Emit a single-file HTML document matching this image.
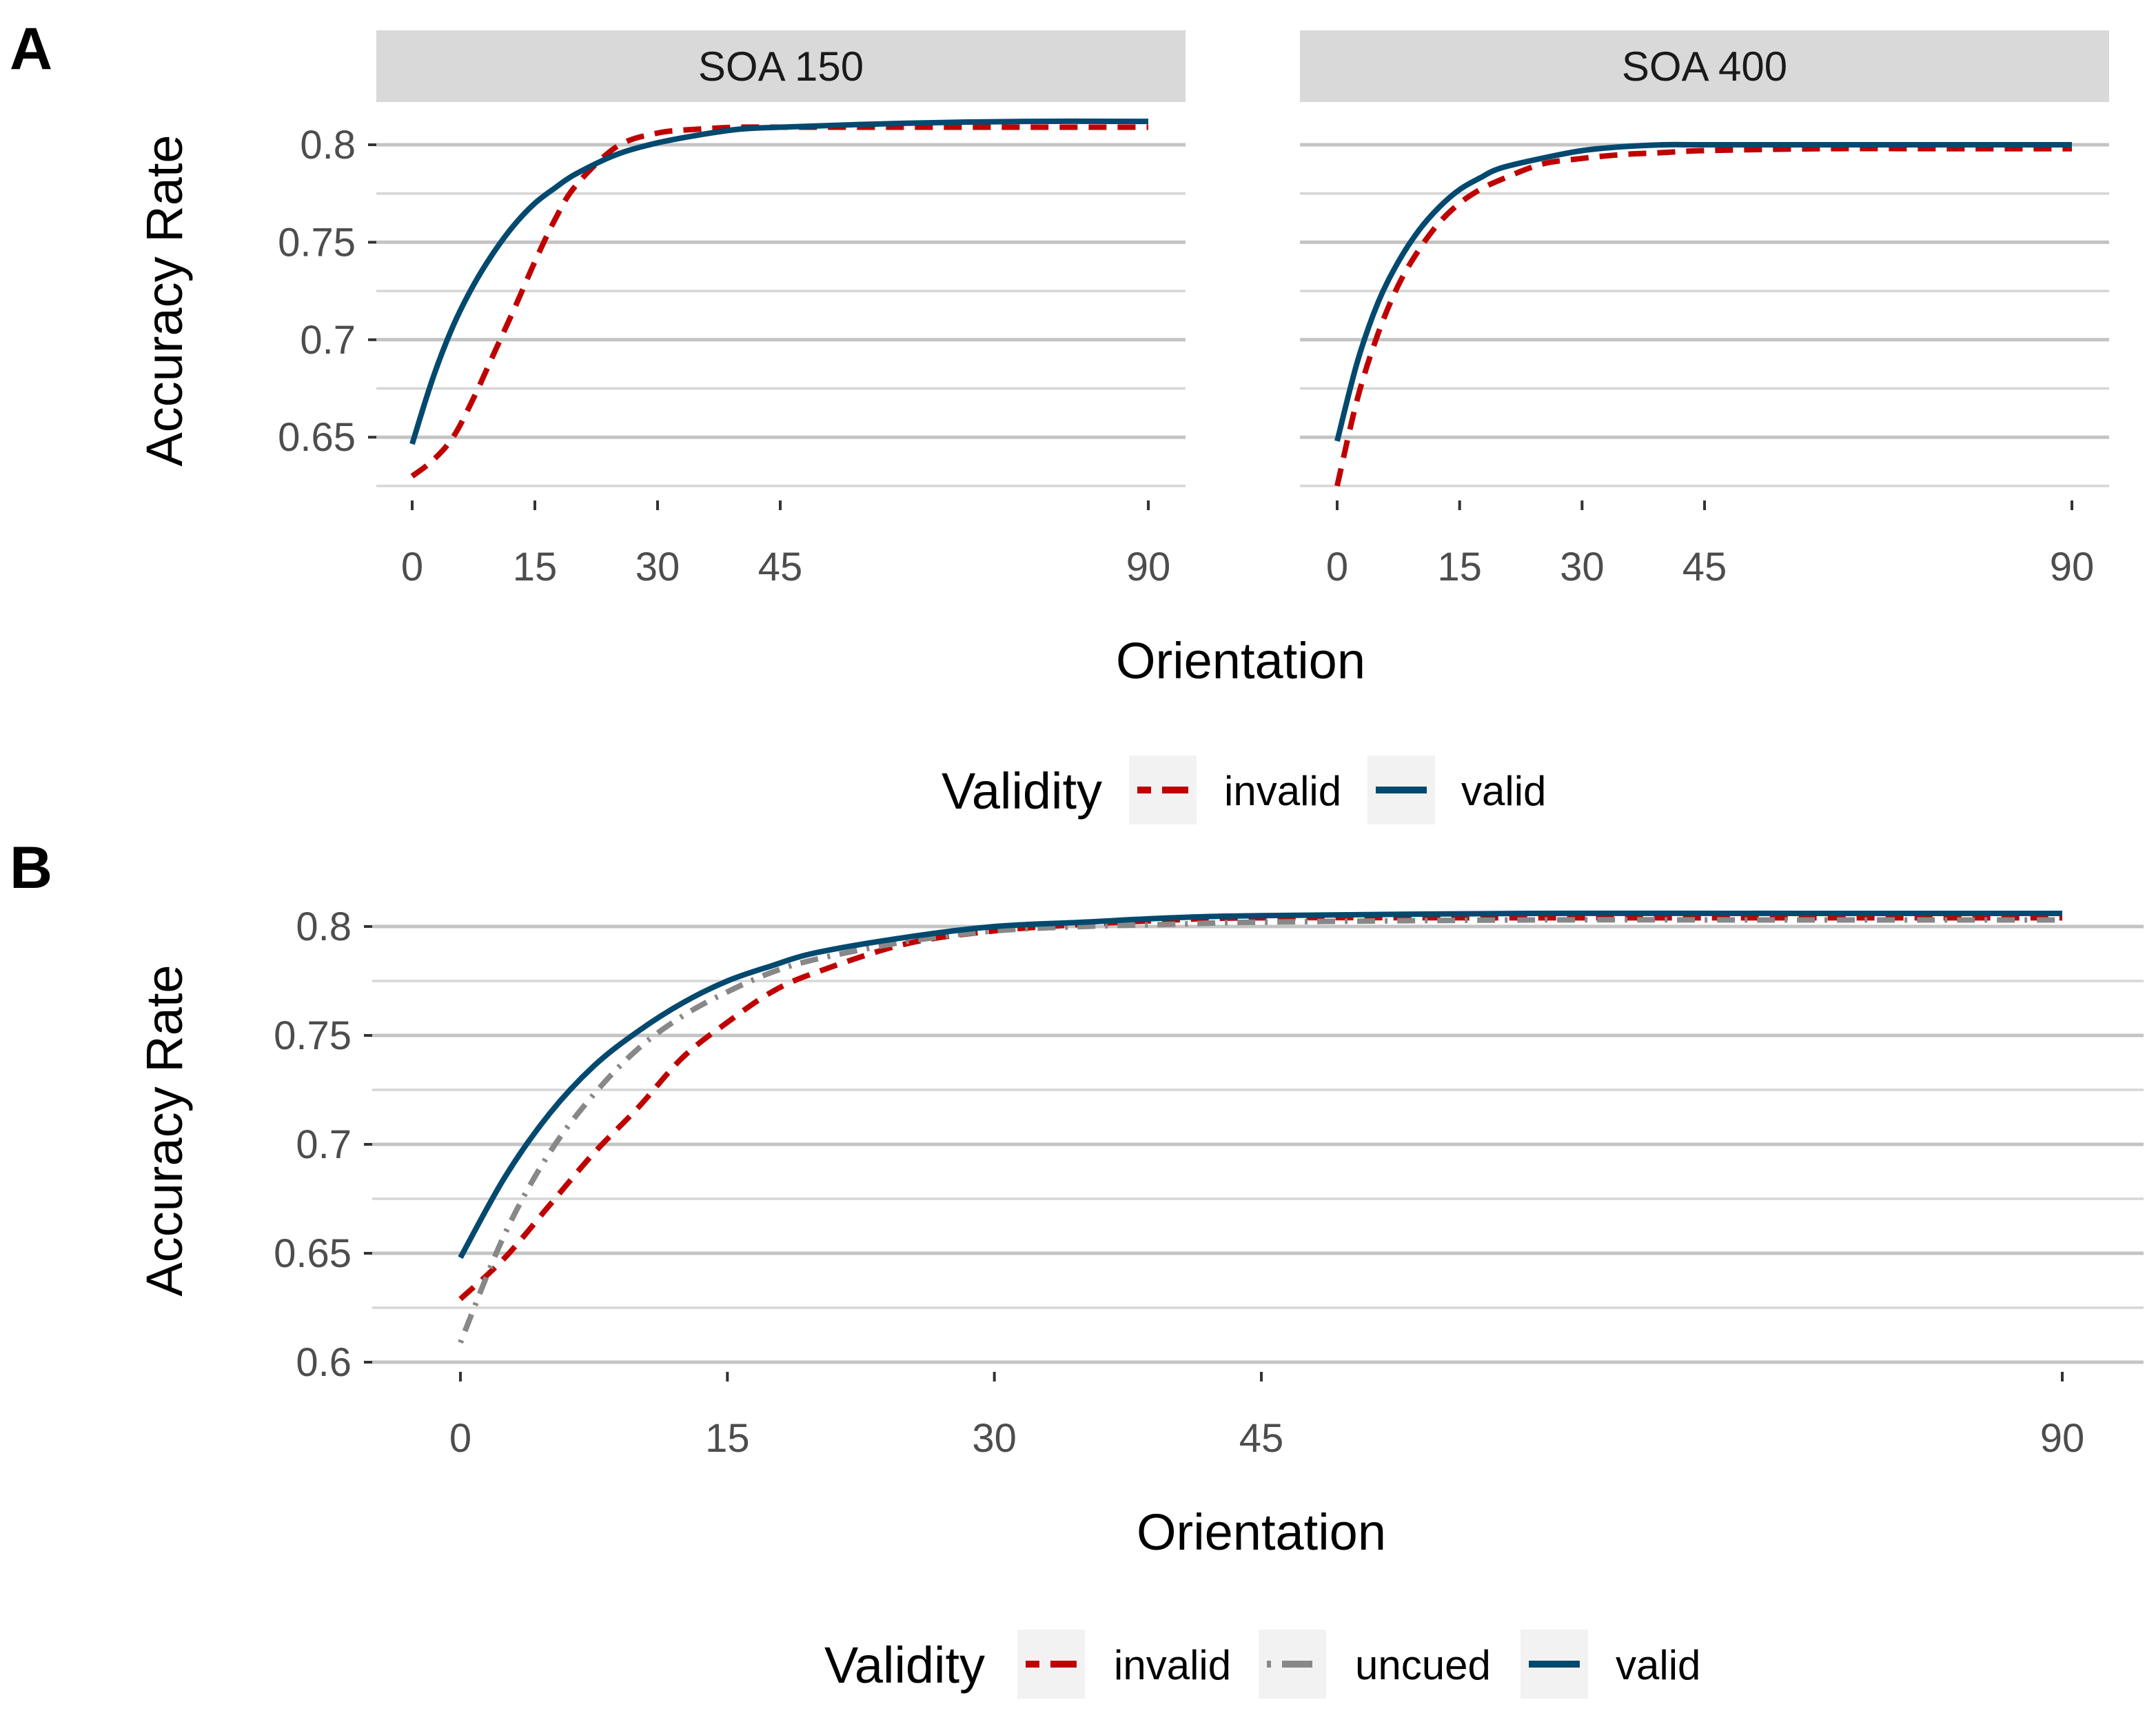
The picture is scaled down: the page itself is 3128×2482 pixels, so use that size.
<!DOCTYPE html>
<html><head><meta charset="utf-8"><style>
html,body{margin:0;padding:0;background:#fff;}
svg{display:block;font-family:"Liberation Sans",sans-serif;}
</style></head><body>
<svg id="fig" width="3128" height="2482" viewBox="0 0 3128 2482" xmlns="http://www.w3.org/2000/svg">
<g id="root"></g>
</svg>
<script>
const xTicks = [0, 15, 30, 45, 90];
const xs = [0, 2.5, 5, 7.5, 10, 12.5, 15, 17.5, 20, 25, 30, 35, 40, 45, 60, 75, 90];
const yTicksA = [0.65, 0.7, 0.75, 0.8];
const yTickLabelsA = ["0.65", "0.7", "0.75", "0.8"];
const yTicksB = [0.6, 0.65, 0.7, 0.75, 0.8];
const yTickLabelsB = ["0.6", "0.65", "0.7", "0.75", "0.8"];
const validA150 = [0.6465, 0.680, 0.707, 0.728, 0.745, 0.759, 0.770, 0.778, 0.785, 0.795, 0.801, 0.805, 0.808, 0.809, 0.811, 0.812, 0.812];
const invalidA150 = [0.630, 0.638, 0.650, 0.670, 0.693, 0.716, 0.740, 0.762, 0.779, 0.799, 0.806, 0.808, 0.809, 0.809, 0.809, 0.809, 0.809];
const validA400 = [0.648, 0.689, 0.719, 0.740, 0.756, 0.768, 0.777, 0.783, 0.788, 0.793, 0.797, 0.799, 0.800, 0.800, 0.800, 0.800, 0.800];
const invalidA400 = [0.625, 0.670, 0.703, 0.728, 0.746, 0.760, 0.770, 0.777, 0.782, 0.790, 0.793, 0.795, 0.796, 0.797, 0.798, 0.798, 0.798];
const validB = [0.648, 0.685, 0.714, 0.736, 0.752, 0.765, 0.775, 0.782, 0.788, 0.795, 0.800, 0.802, 0.804, 0.805, 0.806, 0.806, 0.806];
const uncuedB = [0.609, 0.659, 0.696, 0.723, 0.744, 0.759, 0.770, 0.779, 0.785, 0.793, 0.798, 0.800, 0.801, 0.802, 0.803, 0.803, 0.803];
const invalidB = [0.629, 0.648, 0.672, 0.696, 0.717, 0.740, 0.756, 0.770, 0.779, 0.792, 0.798, 0.801, 0.803, 0.804, 0.804, 0.804, 0.804];

const NS = "http://www.w3.org/2000/svg";
const root = document.getElementById("root");
function el(tag, attrs, parent, text) {
  const e = document.createElementNS(NS, tag);
  for (const k in attrs) e.setAttribute(k, attrs[k]);
  if (text !== undefined) e.textContent = text;
  (parent || root).appendChild(e);
  return e;
}
const COL = {valid: "#02496f", invalid: "#c00000", uncued: "#888888"};
const DASH = {valid: "none", invalid: "26 16", uncued: "4 14 26 14"};

function smoothPath(pts) {
  let d = "M" + pts[0][0].toFixed(1) + "," + pts[0][1].toFixed(1);
  for (let i = 0; i < pts.length - 1; i++) {
    const p0 = pts[Math.max(0, i - 1)], p1 = pts[i], p2 = pts[i + 1], p3 = pts[Math.min(pts.length - 1, i + 2)];
    const c1x = p1[0] + (p2[0] - p0[0]) / 6, c1y = p1[1] + (p2[1] - p0[1]) / 6;
    const c2x = p2[0] - (p3[0] - p1[0]) / 6, c2y = p2[1] - (p3[1] - p1[1]) / 6;
    d += " C" + c1x.toFixed(1) + "," + c1y.toFixed(1) + " " + c2x.toFixed(1) + "," + c2y.toFixed(1) + " " + p2[0].toFixed(1) + "," + p2[1].toFixed(1);
  }
  return d;
}

function panel(cfg) {
  const g = el("g", {});
  
  
  const xScale = v => cfg.x0 + (v - 0) / 90 * (cfg.x90 - cfg.x0);
  const yScale = v => cfg.yRef - (v - cfg.vRef) * cfg.ppu;
  for (let v = cfg.gridMin; v <= cfg.gridMax + 1e-9; v += 0.025) {
    const major = Math.abs(Math.round(v / 0.05) * 0.05 - v) < 1e-6;
    const y = yScale(v);
    const gl = el("line", {x1: cfg.left, x2: cfg.right, y1: y, y2: y, stroke: major ? "#c4c4c4" : "#d6d6d6", "stroke-width": major ? 5 : 3.5}, g);
    
    
  }
  if (cfg.yTicks) {
    cfg.yTicks.forEach((v, i) => {
      const y = yScale(v);
      const t = el("line", {x1: cfg.left - 12, x2: cfg.left, y1: y, y2: y, stroke: "#333", "stroke-width": 4}, g);
      
      
      const l = el("text", {x: cfg.left - 30, y: y + 20, "text-anchor": "end", "font-size": 58, fill: "#4d4d4d"}, g, cfg.yLabels[i]);
      
      
    });
  }
  xTicks.forEach(v => {
    const x = xScale(v);
    const t = el("line", {x1: x, x2: x, y1: cfg.xTickY, y2: cfg.xTickY + 14, stroke: "#333", "stroke-width": 4}, g);
    
    
    const l = el("text", {x: x, y: cfg.xLabelY, "text-anchor": "middle", "font-size": 58, fill: "#4d4d4d"}, g, String(v));
    
    
  });
  cfg.series.forEach(s => {
    const pts = xs.map((x, i) => [xScale(x), yScale(s.data[i])]);
    const p = el("path", {d: smoothPath(pts), fill: "none", stroke: COL[s.key], "stroke-width": 8, "stroke-dasharray": DASH[s.key]}, g);
    
    
  });
  if (cfg.strip) {
    const r = el("rect", {x: cfg.left, y: 44, width: cfg.right - cfg.left, height: 104, fill: "#d9d9d9"}, g);
    
    
    const t = el("text", {x: (cfg.left + cfg.right) / 2, y: 117, "text-anchor": "middle", "font-size": 60, fill: "#1a1a1a"}, g, cfg.strip);
    
    
  }
}

const yA = {yRef: 210, vRef: 0.8, ppu: 2828, gridMin: 0.625, gridMax: 0.8, xTickY: 726, xLabelY: 842};
panel(Object.assign({name: "panel-soa-150", left: 546, right: 1720, x0: 598, x90: 1666, strip: "SOA 150",
  yTicks: yTicksA, yLabels: yTickLabelsA,
  series: [{key: "invalid", data: invalidA150}, {key: "valid", data: validA150}]}, yA));
panel(Object.assign({name: "panel-soa-400", left: 1886, right: 3060, x0: 1940, x90: 3006, strip: "SOA 400",
  series: [{key: "invalid", data: invalidA400}, {key: "valid", data: validA400}]}, yA));
panel({name: "panel-b", left: 540, right: 3110, x0: 668, x90: 2992, yRef: 1344, vRef: 0.8, ppu: 3160,
  gridMin: 0.6, gridMax: 0.8, xTickY: 1990, xLabelY: 2106, yTicks: yTicksB, yLabels: yTickLabelsB,
  series: [{key: "invalid", data: invalidB}, {key: "uncued", data: uncuedB}, {key: "valid", data: validB}]});

function text(x, y, s, size, name, extra) {
  const t = el("text", Object.assign({x: x, y: y, "font-size": size, fill: "#000"}, extra || {}), root, s);
  
  
  return t;
}
text(14, 100, "A", 86, "panel-label-a", {"font-weight": "bold"});
text(14, 1288, "B", 86, "panel-label-b", {"font-weight": "bold"});
text(1800, 984, "Orientation", 74, "x-axis-title-a", {"text-anchor": "middle"});
text(1830, 2248, "Orientation", 74, "x-axis-title-b", {"text-anchor": "middle"});
text(0, 0, "Accuracy Rate", 74, "y-axis-title-a", {"text-anchor": "middle", transform: "translate(264,436) rotate(-90)"});
text(0, 0, "Accuracy Rate", 74, "y-axis-title-b", {"text-anchor": "middle", transform: "translate(264,1640) rotate(-90)"});

function legend(titleX, cy, items, name) {
  const g = el("g", {});
  
  
  const t = el("text", {x: titleX, y: cy + 27, "font-size": 74, fill: "#000"}, g, "Validity");
  
  
  items.forEach(it => {
    const e = el("g", {}, g);
    
    
    el("rect", {x: it.bx, y: cy - 50, width: 98, height: 100, fill: "#f2f2f2"}, e);
    el("line", {x1: it.bx + 12, x2: it.bx + 86, y1: cy, y2: cy, stroke: COL[it.key], "stroke-width": 10,
      "stroke-dasharray": it.key === "invalid" ? "20 16 38 0" : (it.key === "uncued" ? "6 16 38 0" : "none")}, e);
    el("text", {x: it.tx, y: cy + 22, "font-size": 60, fill: "#000"}, e, it.key);
  });
}
legend(1366, 1146, [{key: "invalid", bx: 1638, tx: 1776}, {key: "valid", bx: 1984, tx: 2120}], "legend-a");
legend(1196, 2414, [{key: "invalid", bx: 1476, tx: 1616}, {key: "uncued", bx: 1826, tx: 1966}, {key: "valid", bx: 2206, tx: 2344}], "legend-b");
</script>
</body></html>
